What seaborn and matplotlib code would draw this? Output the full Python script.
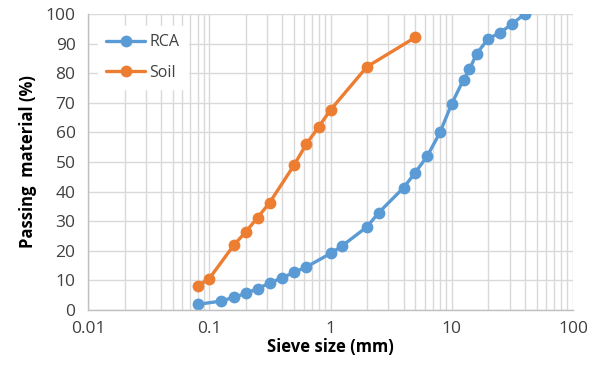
import numpy as np
import pandas as pd
import seaborn as sns
import matplotlib
matplotlib.use("Agg")
import matplotlib.pyplot as plt
from matplotlib.ticker import LogLocator, FixedLocator, NullFormatter

# Data
rca_size = [0.08, 0.125, 0.16, 0.2, 0.25, 0.315, 0.4, 0.5, 0.63, 1.0, 1.25, 2.0, 2.5,
            4.0, 5.0, 6.3, 8.0, 10.0, 12.5, 14.0, 16.0, 20.0, 25.0, 31.5, 40.0]
rca_pass = [1.9, 3.0, 4.3, 5.6, 7.2, 9.1, 10.9, 12.7, 14.5, 19.1, 21.7, 28.1, 32.9,
            41.3, 46.4, 52.1, 60.0, 69.7, 77.8, 81.3, 86.5, 91.7, 93.6, 96.7, 100.0]
soil_size = [0.08, 0.1, 0.16, 0.2, 0.25, 0.315, 0.5, 0.63, 0.8, 1.0, 2.0, 5.0]
soil_pass = [8.1, 10.6, 22.0, 26.4, 31.2, 36.3, 48.9, 56.0, 61.9, 67.6, 82.2, 92.1]
series = ["RCA", "Soil"]
x_ticks = [0.01, 0.1, 1, 10, 100]
x_ticklabels = ["0.01", "0.1", "1", "10", "100"]
y_ticks = list(range(0, 101, 10))

df = pd.concat([
    pd.DataFrame({"size": rca_size, "pass": rca_pass, "Material": series[0]}),
    pd.DataFrame({"size": soil_size, "pass": soil_pass, "Material": series[1]}),
], ignore_index=True)

sns.set_style("white")
plt.rcParams["font.family"] = ["Open Sans", "DejaVu Sans"]

fig = plt.figure(figsize=(6.0, 3.65), dpi=100)
ax = fig.add_axes([0.1467, 0.1507, 0.9550 - 0.1467, 0.9616 - 0.1507])

palette = {"RCA": "#5B9BD5", "Soil": "#ED7D31"}
sns.lineplot(data=df, x="size", y="pass", hue="Material", palette=palette,
             marker="o", markersize=8.5, markeredgewidth=0, linewidth=2.4,
             sort=False, ax=ax, legend=True)

ax.set_xscale("log")
ax.set_xlim(0.01, 100)
ax.set_ylim(0, 100)

ax.xaxis.set_major_locator(FixedLocator(x_ticks))
ax.set_xticklabels(x_ticklabels)
ax.xaxis.set_minor_locator(LogLocator(base=10, subs=np.arange(2, 10)))
ax.xaxis.set_minor_formatter(NullFormatter())
ax.set_yticks(y_ticks)

gridc = "#D9D9D9"
ax.grid(True, which="major", axis="both", color=gridc, linewidth=1.0)
ax.grid(True, which="minor", axis="x", color=gridc, linewidth=1.0)
ax.set_axisbelow(True)

for s in ["top", "right"]:
    ax.spines[s].set_visible(False)
for s in ["left", "bottom"]:
    ax.spines[s].set_color("#BFBFBF")
    ax.spines[s].set_linewidth(1.0)

ax.tick_params(axis="x", which="both", direction="out", length=5, color="#BFBFBF",
               width=1.0, labelsize=12.5, labelcolor="#404040", pad=3)
ax.tick_params(axis="y", which="both", length=0, labelsize=12.5, labelcolor="#404040", pad=9)

ax.set_xlabel("Sieve size (mm)", fontsize=12, fontweight="bold", color="black", labelpad=1)
ax.set_ylabel("Passing  material (%)", fontsize=12, fontweight="bold", color="black", labelpad=6)

leg = ax.legend(loc="upper left", bbox_to_anchor=(0.005, 0.985), frameon=True,
                facecolor="white", edgecolor="white", framealpha=1.0,
                fontsize=11.5, handlelength=2.4, labelspacing=0.9, borderpad=0.5,
                handletextpad=0.3)
for t in leg.get_texts():
    t.set_color("#404040")

fig.savefig("out.png", dpi=100)
